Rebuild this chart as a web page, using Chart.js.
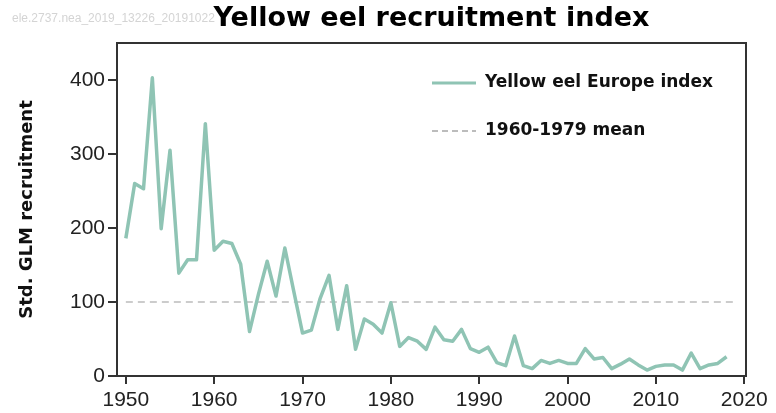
<!DOCTYPE html>
<html>
<head>
<meta charset="utf-8">
<script src="https://cdn.jsdelivr.net/npm/chart.js@4.4.1/dist/chart.umd.min.js"></script>
<style>
html, body { margin: 0; padding: 0; background: #fff; }
</style>
</head>
<body>
<canvas id="canvasEel" width="776" height="413"></canvas>
<script>
const years = [1950, 1951, 1952, 1953, 1954, 1955, 1956, 1957, 1958, 1959,
               1960, 1961, 1962, 1963, 1964, 1965, 1966, 1967, 1968, 1969,
               1970, 1971, 1972, 1973, 1974, 1975, 1976, 1977, 1978, 1979,
               1980, 1981, 1982, 1983, 1984, 1985, 1986, 1987, 1988, 1989,
               1990, 1991, 1992, 1993, 1994, 1995, 1996, 1997, 1998, 1999,
               2000, 2001, 2002, 2003, 2004, 2005, 2006, 2007, 2008, 2009,
               2010, 2011, 2012, 2013, 2014, 2015, 2016, 2017, 2018];
const europeIndex = [186, 260, 253, 403, 199, 305, 139, 157, 157, 341,
                     170, 182, 179, 151, 60, 110, 155, 108, 173, 115,
                     58, 62, 105, 136, 63, 122, 36, 77, 70, 58,
                     99, 40, 52, 47, 36, 66, 49, 47, 63, 37,
                     32, 39, 18, 14, 54, 14, 10, 21, 17, 21,
                     17, 17, 37, 23, 25, 10, 16, 23, 15, 8,
                     13, 15, 15, 8, 31, 10, 15, 17, 26];
const meanYears = [1950, 2019];
const meanValue = 100;
const xTicks = [1950, 1960, 1970, 1980, 1990, 2000, 2010, 2020];
const yTicks = [0, 100, 200, 300, 400];

const lineColor = "rgb(143,196,180)";
const meanColor = "rgb(188,188,188)";
const inkColor = "#222";

// frame, title, watermark and legend drawn on top of the canvas
const decorPlugin = {
    id: 'decor',
    afterDraw(chart) {
        const c = chart.ctx;
        const a = chart.chartArea;
        c.save();
        // box frame
        c.strokeStyle = "#333";
        c.lineWidth = 2;
        c.strokeRect(a.left, a.top, a.right - a.left, a.bottom - a.top);

        // watermark (sits partly under the title)
        c.fillStyle = "#d4d4d4";
        c.font = "12px 'Liberation Sans'";
        c.textBaseline = "middle";
        c.textAlign = "left";
        c.fillText("ele.2737.nea_2019_13226_20191022", 12, 19);

        // title
        c.fillStyle = "#000";
        c.font = "bold 27px 'DejaVu Sans'";
        c.textAlign = "center";
        c.fillText("Yellow eel recruitment index", (a.left + a.right) / 2, 19);

        // legend
        c.textAlign = "left";
        c.font = "bold 17px 'DejaVu Sans'";
        c.lineWidth = 3;
        c.strokeStyle = lineColor;
        c.beginPath(); c.moveTo(432, 83); c.lineTo(476, 83); c.stroke();
        c.fillStyle = "#111";
        c.fillText("Yellow eel Europe index", 485, 83);

        c.lineWidth = 2;
        c.strokeStyle = meanColor;
        c.setLineDash([6, 4]);
        c.beginPath(); c.moveTo(432, 131); c.lineTo(476, 131); c.stroke();
        c.setLineDash([]);
        c.fillText("1960-1979 mean", 485, 131);
        c.restore();
    }
};

function drawEelChart()
{
    const ctx = document.getElementById("canvasEel").getContext("2d");

    const eelChart = new Chart(ctx, {
        type: 'line',
        data: {
            datasets: [{
                label: "Yellow eel Europe index",
                data: years.map((y, i) => ({x: y, y: europeIndex[i]})),
                borderColor: lineColor,
                borderWidth: 3.5,
                borderJoinStyle: 'round',
                pointRadius: 0,
                tension: 0
            }, {
                label: "1960-1979 mean",
                data: meanYears.map(y => ({x: y, y: meanValue})),
                borderColor: meanColor,
                borderWidth: 1.5,
                borderDash: [7, 5],
                pointRadius: 0
            }]
        },
        options: {
            responsive: false,
            animation: false,
            devicePixelRatio: 1,
            layout: { padding: { top: 43, right: 30, left: 0, bottom: 0 } },
            plugins: {
                legend: { display: false },
                tooltip: { enabled: false }
            },
            scales: {
                x: {
                    type: 'linear',
                    min: 1949,
                    max: 2020.2,
                    afterBuildTicks: s => { s.ticks = xTicks.map(v => ({value: v})); },
                    afterFit: s => { s.height = 37; },
                    grid: { drawOnChartArea: false, tickLength: 8, color: "#333", lineWidth: 2 },
                    border: { color: "#333", width: 2 },
                    ticks: {
                        color: inkColor,
                        padding: 4,
                        maxRotation: 0,
                        font: { family: "'Liberation Sans'", size: 21 },
                        callback: v => String(v)
                    }
                },
                y: {
                    min: 0,
                    max: 450,
                    afterBuildTicks: s => { s.ticks = yTicks.map(v => ({value: v})); },
                    afterFit: s => { s.width = 117; },
                    grid: { drawOnChartArea: false, tickLength: 9, color: "#333", lineWidth: 2 },
                    border: { color: "#333", width: 2 },
                    ticks: {
                        color: inkColor,
                        padding: 3,
                        font: { family: "'Liberation Sans'", size: 21 }
                    },
                    title: {
                        display: true,
                        text: "Std. GLM recruitment",
                        color: "#111",
                        padding: { top: 17, bottom: 0 },
                        font: { family: "'DejaVu Sans'", size: 18, weight: 'bold' }
                    }
                }
            }
        },
        plugins: [decorPlugin]
    });
}

drawEelChart();
</script>
</body>
</html>
